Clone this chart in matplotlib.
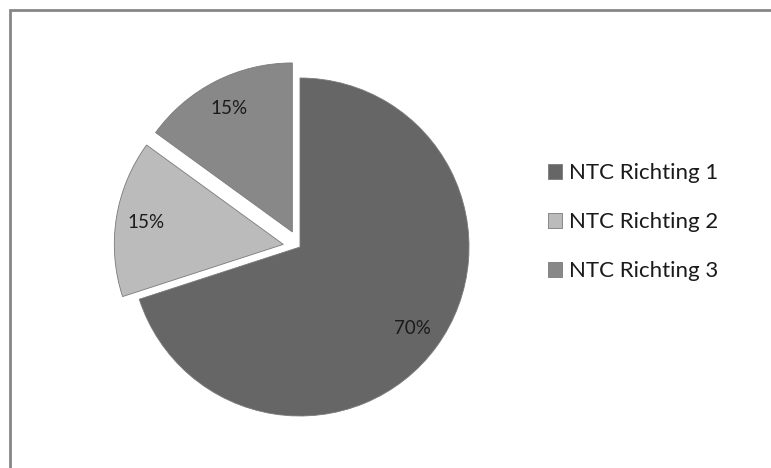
import matplotlib.pyplot as plt
from matplotlib.patches import Rectangle

labels = ["NTC Richting 1", "NTC Richting 2", "NTC Richting 3"]
values = [70, 15, 15]
colors = ["#666666", "#bbbbbb", "#888888"]
explode = [0, 0.1, 0.1]

plt.rcParams['font.family'] = ['Lato', 'DejaVu Sans']

W, H = 771, 468
fig = plt.figure(figsize=(W / 100, H / 100), dpi=100)

# frame (only top and left are visible in the original crop)
fig.patches.append(Rectangle((10 / W, -0.1), 1.2, (H - 10) / H + 0.1,
                             transform=fig.transFigure, fill=False,
                             edgecolor="#868686", linewidth=2))

# pie centre ~ (300, 247) px, radius ~169 px
cx, cy, half, R = 300, 247, 200, 169
ax = fig.add_axes([(cx - half) / W, (H - cy - half) / H, 2 * half / W, 2 * half / H])
wedges, texts, autotexts = ax.pie(values, colors=colors, explode=explode,
                                  startangle=90, counterclock=False,
                                  autopct="%d%%", pctdistance=0.82,
                                  wedgeprops=dict(edgecolor="#7a7a7a", linewidth=0.6),
                                  textprops=dict(fontsize=13.5, color="#1a1a1a"))
lim = half / R
ax.set_xlim(-lim, lim)
ax.set_ylim(-lim, lim)
ax.set_aspect("equal")
ax.axis("off")

fig.legend(wedges, labels, loc="center left", bbox_to_anchor=(528 / W, 1 - 222 / H),
           frameon=False, fontsize=16, labelspacing=1.3, handlelength=0.65,
           handleheight=0.65, handletextpad=0.3, labelcolor="#1a1a1a")

fig.savefig("out.png", dpi=100)
